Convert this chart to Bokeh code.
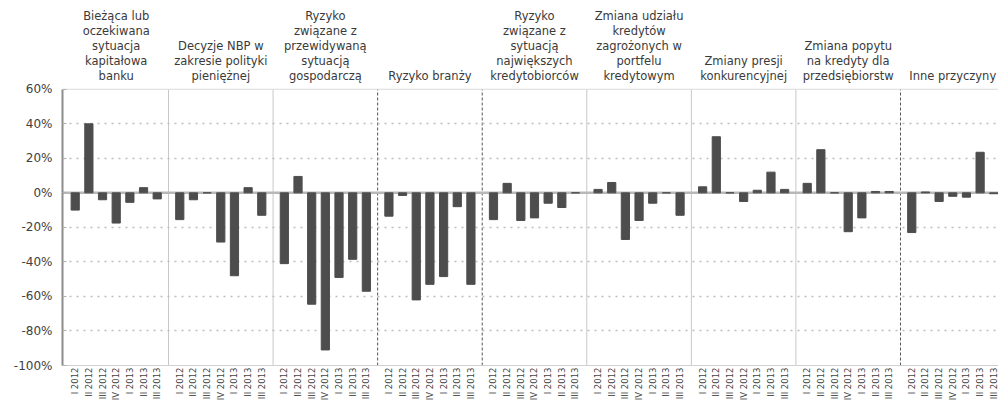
import math
from bokeh.plotting import figure
from bokeh.models import (Range1d, FixedTicker, PrintfTickFormatter,
                          CustomJSTickFormatter, Span)
from bokeh.core.properties import value
from bokeh.embed import file_html
from bokeh.resources import INLINE

groups = [
    "Bieżąca lub\noczekiwana\nsytuacja\nkapitałowa\nbanku",
    "Decyzje NBP w\nzakresie polityki\npieniężnej",
    "Ryzyko\nzwiązane z\nprzewidywaną\nsytuacją\ngospodarczą",
    "Ryzyko branży",
    "Ryzyko\nzwiązane z\nsytuacją\nnajwiększych\nkredytobiorców",
    "Zmiana udziału\nkredytów\nzagrożonych w\nportfelu\nkredytowym",
    "Zmiany presji\nkonkurencyjnej",
    "Zmiana popytu\nna kredyty dla\nprzedsiębiorstw",
    "Inne przyczyny",
]
quarters = ["I 2012", "II 2012", "III 2012", "IV 2012", "I 2013", "II 2013", "III 2013"]

kapital = [-10, 40, -4, -17.5, -5.5, 3, -3.5]
nbp = [-15.5, -4, 0, -28.5, -48, 3, -13]
gospodarka = [-41, 9.5, -64.5, -91, -49, -38.5, -57]
branza = [-13.5, -1.5, -62, -53, -48.5, -8, -53]
kredytobiorcy = [-15.5, 5.5, -16, -14.5, -6, -8.5, 0]
zagrozone = [2, 6, -27, -16, -6, 0, -13]
konkurencja = [3.5, 32.5, 0, -5, 1.5, 12, 2]
popyt = [5.5, 25, 0, -22.5, -14.5, 0.8, 0.8]
inne = [-23, 0.5, -5, -2, -2.5, 23.5, -0.5]

values = [kapital, nbp, gospodarka, branza, kredytobiorcy, zagrozone,
          konkurencja, popyt, inne]

y_ticks = [-100, -80, -60, -40, -20, 0, 20, 40, 60]

P = 7.65      # group period in bar units
OFF = 0.825   # half gap between groups

xs, ys, labs = [], [], []
for g, vals in enumerate(values):
    for i, v in enumerate(vals):
        xs.append(g * P + OFF + i)
        ys.append(v)
        labs.append(quarters[i])

head_x = [g * P + P / 2 for g in range(len(groups))]
div_x = [g * P for g in range(1, len(groups))]
dark_dividers = {3, 4, 8}

p = figure(width=998, height=403,
           x_range=Range1d(-0.104, 68.37), y_range=Range1d(y_ticks[0], 110.25),
           output_backend="svg", toolbar_location=None,
           min_border_left=62, min_border_right=0,
           min_border_top=2, min_border_bottom=37)
p.outline_line_color = None
p.background_fill_color = "white"

# grid
p.xgrid.visible = False
p.ygrid.ticker = FixedTicker(ticks=[t for t in y_ticks if t not in (0, y_ticks[0], y_ticks[-1])])
p.ygrid.grid_line_color = "#bdbdbd"
p.ygrid.grid_line_dash = "2 5"
p.ygrid.grid_line_width = 1.5

for loc in (y_ticks[0], y_ticks[-1]):
    p.add_layout(Span(location=loc, dimension="width", line_color="#dadada",
                      line_width=1, level="underlay"))
p.add_layout(Span(location=0, dimension="width", line_color="#b8b8b8",
                  line_width=2.5, level="underlay"))

light = [x for g, x in zip(range(1, len(groups)), div_x) if g not in dark_dividers]
dark = [x for g, x in zip(range(1, len(groups)), div_x) if g in dark_dividers]
p.segment(x0=light, x1=light, y0=y_ticks[0], y1=y_ticks[-1],
          line_color="#c8c8c8", line_width=1, level="underlay")
p.segment(x0=dark, x1=dark, y0=y_ticks[0], y1=y_ticks[-1],
          line_color="#555555", line_width=1, line_dash="3 2", level="underlay")

p.vbar(x=xs, top=ys, width=0.6, fill_color="#4d4d4d", line_color="#4d4d4d")

# y axis
p.yaxis.ticker = FixedTicker(ticks=y_ticks)
p.yaxis.bounds = (y_ticks[0], y_ticks[-1])
p.yaxis.formatter = PrintfTickFormatter(format="%d%%")
p.yaxis.major_label_text_font = "DejaVu Sans"
p.yaxis.major_label_text_font_size = "12px"
p.yaxis.major_label_text_color = "#404040"
p.yaxis.axis_line_color = "#8c8c8c"
p.yaxis.axis_line_width = 2
p.yaxis.major_tick_in = 4
p.yaxis.major_tick_out = 0
p.yaxis.major_tick_line_color = "#b0b0b0"
p.yaxis.minor_tick_line_color = None
p.yaxis.major_label_standoff = 10

# x axis
p.xaxis.ticker = FixedTicker(ticks=xs)
p.xaxis.formatter = CustomJSTickFormatter(args=dict(xs=xs, labs=labs), code="""
let best = 0, bd = Infinity;
for (let j = 0; j < xs.length; j++) {
  const d = Math.abs(xs[j] - tick);
  if (d < bd) { bd = d; best = j; }
}
return labs[best];
""")
p.xaxis.major_label_orientation = math.pi / 2
p.xaxis.major_label_text_font = "DejaVu Sans"
p.xaxis.major_label_text_font_size = "8.5px"
p.xaxis.major_label_text_color = "#444444"
p.xaxis.major_tick_in = 0
p.xaxis.major_tick_out = 0
p.xaxis.minor_tick_line_color = None
p.xaxis.axis_line_color = "#d0d0d0"
p.xaxis.major_label_standoff = 2

# group headers
p.text(x=head_x, y=[63.6] * len(groups), text=groups,
       text_align="center", text_baseline="bottom",
       text_font=value("DejaVu Sans"), text_font_size="11.5px",
       text_line_height=1.075, text_color="#3a3a3a")

open("out.html", "w").write(file_html(p, INLINE))
